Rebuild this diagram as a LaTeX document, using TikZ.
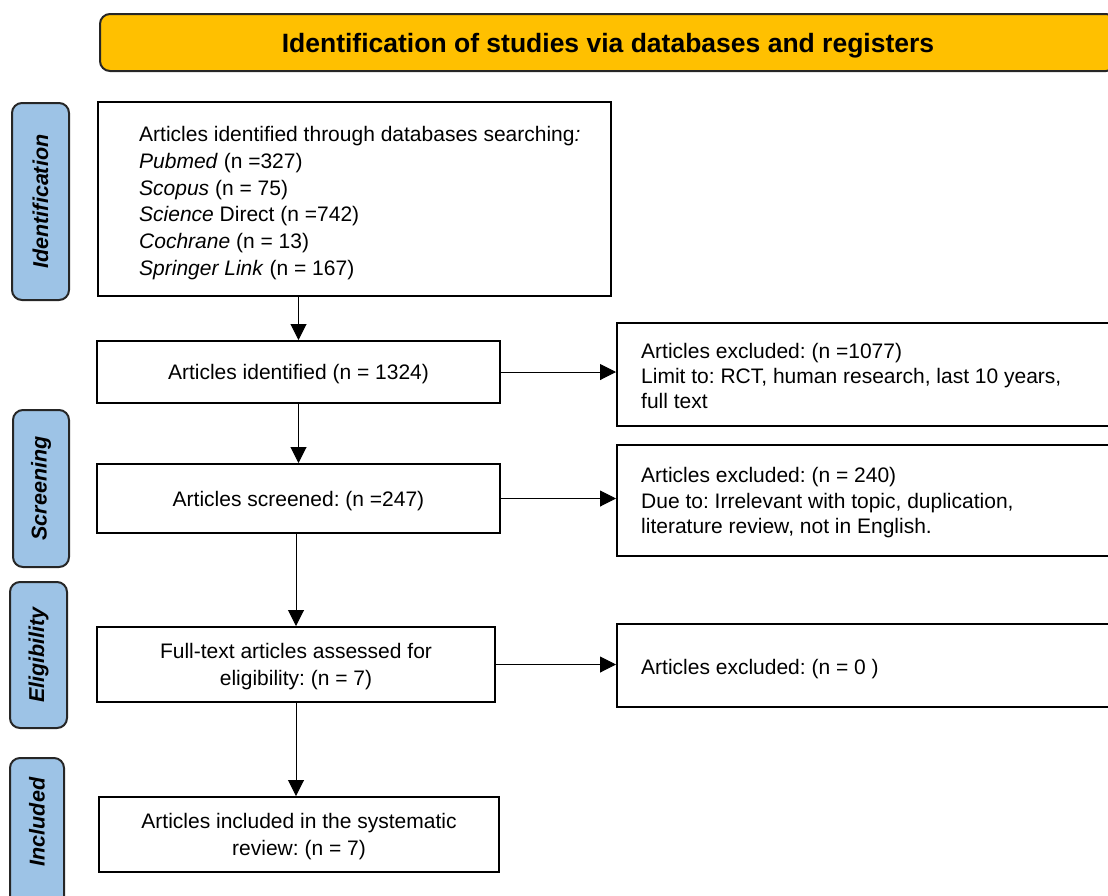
\documentclass[tikz,border=0pt]{standalone}
\usepackage{fontspec}
\setmainfont{Liberation Sans}
\usetikzlibrary{arrows.meta}
\definecolor{hdrfill}{HTML}{FFC000}
\definecolor{sidefill}{HTML}{9DC3E6}
\frenchspacing
\begin{document}
\frenchspacing
\begin{tikzpicture}[x=1pt,y=-1pt,
  box/.style={draw=black, line width=2pt, fill=white, inner sep=0pt},
  txt/.style={font=\fontsize{21}{26.8}\selectfont, inner sep=0pt, text depth=0pt},
  rtxt/.style={font=\fontsize{21}{25.3}\selectfont, inner sep=0pt, align=left, anchor=west, text depth=0pt},
  sidebox/.style={draw=black!85, line width=2pt, fill=sidefill, rounded corners=10pt, inner sep=0pt},
  sidetxt/.style={font=\fontsize{21.5}{26}\selectfont\bfseries\itshape, rotate=90, inner sep=0pt},
  arr/.style={line width=1pt, -{Triangle[length=16pt,width=16pt]}}]
\clip (0,0) rectangle (1108,895);
\useasboundingbox (0,0) rectangle (1108,895);

% header
\node[draw=black!85, line width=2pt, fill=hdrfill, rounded corners=10pt,
      minimum width=1016pt, minimum height=57pt, inner sep=0pt, text depth=0pt,
      font=\fontsize{26.5}{30}\selectfont\bfseries] (hdr) at (608,42.5)
      {Identification of studies via databases and registers};

% side labels
\node[sidebox, minimum width=57pt, minimum height=197pt] (sid1) at (40.5,201.5) {};
\node[sidetxt] (sid1t) at (sid1.center) {Identification};
\node[sidebox, minimum width=56pt, minimum height=157pt] (sid2) at (41,488.5) {};
\node[sidetxt] (sid2t) at (sid2.center) {Screening};
\node[sidebox, minimum width=57pt, minimum height=146pt] (sid3) at (38.5,655) {};
\node[sidetxt] (sid3t) at (sid3.center) {Eligibility};
\node[sidebox, minimum width=54pt, minimum height=152pt] (sid4) at (37,834) {};
\node[sidetxt] (sid4t) at (37,822) {Included};

% main boxes
\node[box, minimum width=513pt, minimum height=194pt] (b1) at (354.5,199) {};
\node[txt, align=left, anchor=north west] (b1t) at (139,126)
  {Articles identified through databases searching\textit{:}\\
   \textit{Pubmed} (n =327)\\
   \textit{Scopus} (n = 75)\\
   \textit{Science} Direct (n =742)\\
   \textit{Cochrane} (n = 13)\\
   \textit{Springer Link} (n = 167)};

\node[box, txt, minimum width=403pt, minimum height=62pt] (b2) at (298.5,372)
  {Articles identified (n = 1324)};
\node[box, txt, minimum width=403pt, minimum height=69pt] (b3) at (298.5,498.5)
  {Articles screened: (n =247)};
\node[box, txt, align=center, minimum width=398pt, minimum height=75pt] (b4) at (296,664.5)
  {Full-text articles assessed for\\eligibility: (n = 7)};
\node[box, txt, align=center, minimum width=400pt, minimum height=75pt] (b5) at (299,834.5)
  {Articles included in the systematic\\review: (n = 7)};

% right boxes
\node[box, minimum width=503pt, minimum height=103pt] (r1) at (868.5,374.5) {};
\node[rtxt] (r1t) at (641,376)
  {Articles excluded: (n =1077)\\Limit to: RCT, human research, last 10 years,\\full text};
\node[box, minimum width=503pt, minimum height=111pt] (r2) at (868.5,500.5) {};
\node[rtxt] (r2t) at (641,500.5)
  {Articles excluded: (n = 240)\\Due to: Irrelevant with topic, duplication,\\literature review, not in English.};
\node[box, minimum width=503pt, minimum height=83pt] (r3) at (868.5,665.5) {};
\node[rtxt] (r3t) at (641,667) {Articles excluded: (n = 0 )};

% vertical connectors
\draw[arr] (b2.north |- b1.south) -- (b2.north);
\draw[arr] (b2.south) -- (b2.south |- b3.north);
\draw[arr] (b4.north |- b3.south) -- (b4.north);
\draw[arr] (b4.south) -- (b4.south |- b5.north);

% horizontal connectors
\draw[arr] (b2.east) -- (b2.east -| r1.west);
\draw[arr] (b3.east) -- (b3.east -| r2.west);
\draw[arr] (b4.east) -- (b4.east -| r3.west);
\end{tikzpicture}
\end{document}
